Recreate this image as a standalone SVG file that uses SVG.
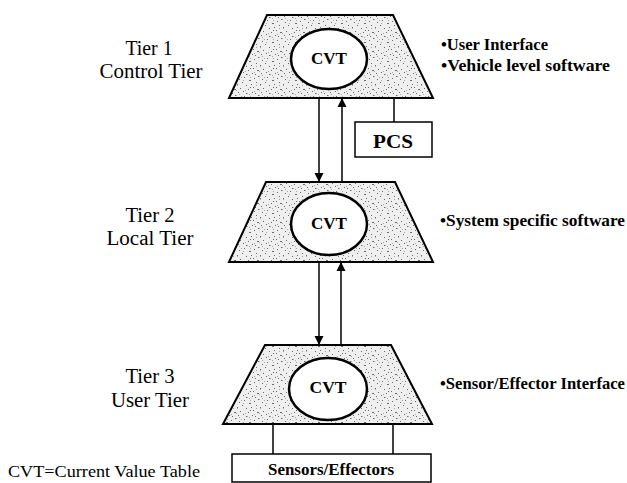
<svg xmlns="http://www.w3.org/2000/svg" width="627" height="483" viewBox="0 0 627 483">
<style>
.trap{fill:url(#stipple);stroke:#000;stroke-width:2;stroke-linejoin:miter}
.cvt{fill:#fff;stroke:#000;stroke-width:2.5}
.box{fill:#fff;stroke:#000;stroke-width:1.5}
.ln{fill:none;stroke:#000;stroke-width:1.5}
text{font-family:'Liberation Serif','DejaVu Serif','Times New Roman',serif;fill:#000}
.lbl{font-size:20px;text-anchor:middle}
.b{font-weight:bold}
.note{font-weight:bold;font-size:16px}
</style>
<defs>
<pattern id="stipple" width="23" height="19" patternUnits="userSpaceOnUse">
<rect width="23" height="19" fill="#efefef"/>
<g fill="#6a6a6a">
<rect x="1" y="2" width="1" height="1"/><rect x="5" y="0" width="1.5" height="1"/><rect x="9" y="3" width="1" height="1"/>
<rect x="14" y="1" width="1" height="1"/><rect x="19" y="4" width="2" height="1"/><rect x="3" y="6" width="1" height="1"/>
<rect x="7" y="8" width="1" height="1.5"/><rect x="12" y="6" width="1" height="1"/><rect x="16" y="9" width="1" height="1"/>
<rect x="21" y="8" width="1" height="1"/><rect x="0" y="11" width="1" height="1"/><rect x="4" y="13" width="2" height="1"/>
<rect x="10" y="12" width="1" height="1"/><rect x="13" y="15" width="1" height="1"/><rect x="18" y="13" width="1" height="1"/>
<rect x="22" y="16" width="1" height="1"/><rect x="2" y="17" width="1" height="1"/><rect x="8" y="16" width="1" height="1"/>
<rect x="16" y="17" width="1.5" height="1"/><rect x="20" y="11" width="1" height="1"/>
</g>
<g fill="#a8a8a8">
<rect x="3" y="9" width="1" height="1"/><rect x="11" y="1" width="1" height="1"/><rect x="20" y="1" width="1" height="1"/>
<rect x="6" y="14" width="1" height="1"/><rect x="15" y="14" width="1" height="1"/><rect x="9" y="18" width="1" height="1"/>
<rect x="19" y="18" width="1" height="1"/><rect x="1" y="15" width="1" height="1"/><rect x="13" y="4" width="1" height="1"/>
</g>
</pattern>
<marker id="arr" viewBox="0 0 10 10" refX="10" refY="5" markerWidth="9" markerHeight="10" markerUnits="userSpaceOnUse" orient="auto">
<path d="M0,0 L10,5 L0,10 z" fill="#000"/>
</marker>
</defs>

<g id="tier1">
<polygon class="trap" points="267,15 393,15 433,98 229,98"/>
<ellipse class="cvt" cx="329" cy="59" rx="38" ry="30"/>
<text class="b" x="329" y="64" font-size="17" text-anchor="middle" textLength="36" lengthAdjust="spacingAndGlyphs">CVT</text>
</g>
<g id="tier2">
<polygon class="trap" points="266,182 395,182 433,262 229,262"/>
<ellipse class="cvt" cx="329" cy="224" rx="38" ry="31"/>
<text class="b" x="329" y="229" font-size="17" text-anchor="middle" textLength="36" lengthAdjust="spacingAndGlyphs">CVT</text>
</g>
<g id="tier3">
<polygon class="trap" points="265,345 391,345 432,424 223,424"/>
<ellipse class="cvt" cx="328" cy="389" rx="39" ry="31"/>
<text class="b" x="328" y="393" font-size="17" text-anchor="middle" textLength="37" lengthAdjust="spacingAndGlyphs">CVT</text>
</g>
<g id="pcs">
<rect class="box" x="355" y="122" width="77" height="35"/>
<text class="b" x="393" y="148" font-size="19" text-anchor="middle" textLength="40" lengthAdjust="spacingAndGlyphs">PCS</text>
</g>
<g id="sensors">
<rect class="box" x="232" y="454" width="199" height="28"/>
<text class="b" x="331" y="475" font-size="16" text-anchor="middle" textLength="126" lengthAdjust="spacingAndGlyphs">Sensors/Effectors</text>
</g>

<g id="connectors">
<line class="ln" x1="319" y1="98" x2="319" y2="182" marker-end="url(#arr)"/>
<line class="ln" x1="342" y1="182" x2="342" y2="98" marker-end="url(#arr)"/>
<line class="ln" x1="319" y1="262" x2="319" y2="345" marker-end="url(#arr)"/>
<line class="ln" x1="341" y1="345" x2="341" y2="262" marker-end="url(#arr)"/>
<line class="ln" x1="394" y1="98" x2="394" y2="122"/>
<line class="ln" x1="273" y1="424" x2="273" y2="454"/>
<line class="ln" x1="393" y1="424" x2="393" y2="454"/>
</g>

<g id="labels">
<text class="lbl" x="149" y="55" textLength="47" lengthAdjust="spacingAndGlyphs">Tier 1</text>
<text class="lbl" x="151" y="78" textLength="103" lengthAdjust="spacingAndGlyphs">Control Tier</text>
<text class="lbl" x="150" y="222" textLength="49" lengthAdjust="spacingAndGlyphs">Tier 2</text>
<text class="lbl" x="150" y="245" textLength="87" lengthAdjust="spacingAndGlyphs">Local Tier</text>
<text class="lbl" x="150" y="383" textLength="49" lengthAdjust="spacingAndGlyphs">Tier 3</text>
<text class="lbl" x="150" y="407" textLength="78" lengthAdjust="spacingAndGlyphs">User Tier</text>
<text x="8" y="477" font-size="17.5" textLength="192" lengthAdjust="spacingAndGlyphs">CVT=Current Value Table</text>
<text class="note" x="441" y="50" textLength="107" lengthAdjust="spacingAndGlyphs">•User Interface</text>
<text class="note" x="441" y="71" textLength="169" lengthAdjust="spacingAndGlyphs">•Vehicle level software</text>
<text class="note" x="440" y="226" textLength="185" lengthAdjust="spacingAndGlyphs">•System specific software</text>
<text class="note" x="440" y="389" textLength="185" lengthAdjust="spacingAndGlyphs">•Sensor/Effector Interface</text>
</g>
</svg>
